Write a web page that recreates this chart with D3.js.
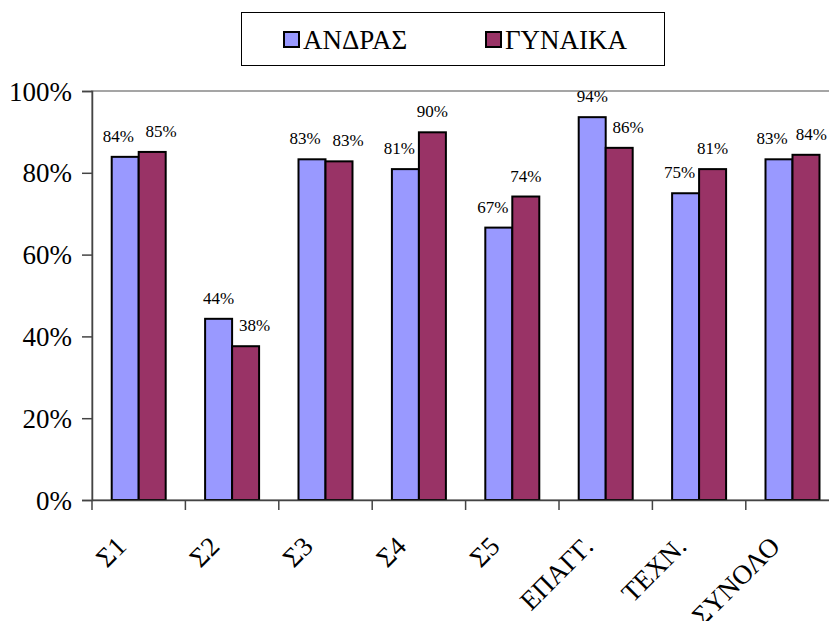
<!DOCTYPE html>
<html>
<head>
<meta charset="utf-8">
<script src="https://cdn.jsdelivr.net/npm/d3@7/dist/d3.min.js"></script>
<style>
  body { margin: 0; background: #fff; }
  svg { display: block; }
  svg text { font-family: "Liberation Serif", "DejaVu Serif", serif; }
</style>
</head>
<body>
<div id="chartContainer"></div>
<script>
// chart data
const categories = ["Σ1", "Σ2", "Σ3", "Σ4", "Σ5", "ΕΠΑΓΓ.", "ΤΕΧΝ.", "ΣΥΝΟΛΟ"];
const series = ["ΑΝΔΡΑΣ", "ΓΥΝΑΙΚΑ"];
const men = [83.9, 44.3, 83.3, 80.9, 66.6, 93.6, 75.0, 83.3];
const women = [85.1, 37.6, 82.8, 89.9, 74.2, 86.1, 80.9, 84.4];
const yTicks = [0, 20, 40, 60, 80, 100];
const colors = ["#9999FF", "#993366"];

// layout
const W = 829, H = 621;
const LEFT = 92, TOP = 91, BOTTOM = 500;
const STEP = 93.4;
const RIGHT = LEFT + STEP * categories.length;
const FONT = "'Liberation Serif', 'DejaVu Serif', serif";

const svg = d3.select("#chartContainer")
    .append("svg")
    .attr("width", W)
    .attr("height", H);

const xScale = d3.scaleBand()
    .domain(categories)
    .range([LEFT, RIGHT])
    .padding(0);

const groupW = xScale.bandwidth() * 0.578;
const xInner = d3.scaleBand()
    .domain(series)
    .range([0, groupW]);

const yScale = d3.scaleLinear()
    .domain([0, 100])
    .range([BOTTOM, TOP]);

// plot border (top edge visible, right side off frame)
svg.append("rect")
    .attr("x", LEFT)
    .attr("y", TOP)
    .attr("width", RIGHT - LEFT)
    .attr("height", BOTTOM - TOP)
    .attr("fill", "none")
    .attr("stroke", "#888")
    .attr("stroke-width", 1.5);

// bars
const rows = categories.map((c, i) => ({ cat: c, vals: [men[i], women[i]] }));

const groups = svg.append("g")
    .selectAll("g")
    .data(rows)
    .join("g")
    .attr("transform", d => `translate(${xScale(d.cat) + (xScale.bandwidth() - groupW) / 2},0)`);

groups.selectAll("rect")
    .data(d => d.vals.map((v, j) => ({ s: series[j], v: v, j: j })))
    .join("rect")
    .attr("x", d => xInner(d.s))
    .attr("y", d => yScale(d.v))
    .attr("width", xInner.bandwidth())
    .attr("height", d => BOTTOM - yScale(d.v))
    .attr("fill", d => colors[d.j])
    .attr("stroke", "#000")
    .attr("stroke-width", 2);

// value labels: the lower bar's label is nudged away from its neighbour,
// near-equal pairs are pushed apart
function labelShift(vals, j) {
    const diff = vals[0] - vals[1];
    if (Math.abs(diff) < 2) return j === 0 ? -7 : 9;
    if (diff > 0) return j === 1 ? 9 : 0;
    return j === 0 ? -6 : 0;
}

groups.each(function(row) {
    const gOffset = xScale(row.cat) + (xScale.bandwidth() - groupW) / 2;
    d3.select(this).selectAll("text")
        .data(row.vals.map((v, j) => ({ s: series[j], v: v, j: j })))
        .join("text")
        .attr("y", d => yScale(d.v) - 15)
        .attr("text-anchor", "middle")
        .attr("font-family", FONT)
        .attr("font-size", 17)
        .text(d => Math.round(d.v) + "%")
        .attr("x", function(d) {
            let x = xInner(d.s) + xInner.bandwidth() / 2 + labelShift(row.vals, d.j);
            // keep the label inside the picture
            const half = this.getComputedTextLength() / 2;
            const maxX = W - 2 - half - gOffset;
            return Math.min(x, maxX);
        });
});

// y axis
const yAxis = d3.axisLeft(yScale)
    .tickValues(yTicks)
    .tickSize(10)
    .tickPadding(10)
    .tickFormat(d => d + "%");

const gy = svg.append("g")
    .attr("transform", `translate(${LEFT},0)`)
    .call(yAxis);
gy.attr("font-family", FONT);
gy.selectAll("path, line").attr("stroke", "#444").attr("stroke-width", 1.5);
gy.selectAll("text")
    .attr("font-size", 27)
    .attr("font-family", FONT)
    .attr("fill", "#000")
    .attr("dy", "0.34em");

// x axis: ticks at category boundaries
const xAxis = d3.axisBottom(xScale)
    .tickSize(0)
    .tickFormat("");
const gx = svg.append("g")
    .attr("transform", `translate(0,${BOTTOM})`)
    .call(xAxis);
gx.select("path").attr("stroke", "#444").attr("stroke-width", 1.5);

gx.selectAll(".bound")
    .data(categories)
    .join("line")
    .attr("class", "bound")
    .attr("x1", d => xScale(d))
    .attr("x2", d => xScale(d))
    .attr("y1", 0)
    .attr("y2", 10)
    .attr("stroke", "#444")
    .attr("stroke-width", 1.5);

// x labels rotated
svg.append("g")
    .selectAll("text")
    .data(categories)
    .join("text")
    .attr("transform", d => `translate(${xScale(d) + xScale.bandwidth() / 2 - 11},${BOTTOM + 48}) rotate(-45)`)
    .attr("text-anchor", "end")
    .attr("font-family", FONT)
    .attr("font-size", 27)
    .text(d => d);

// legend
const legend = svg.append("g");
legend.append("rect")
    .attr("x", 241.5)
    .attr("y", 12.5)
    .attr("width", 423)
    .attr("height", 53)
    .attr("fill", "#fff")
    .attr("stroke", "#000")
    .attr("stroke-width", 1);

const legendX = [284, 486];
series.forEach((s, i) => {
    legend.append("rect")
        .attr("x", legendX[i])
        .attr("y", 32)
        .attr("width", 15)
        .attr("height", 15)
        .attr("fill", colors[i])
        .attr("stroke", "#000")
        .attr("stroke-width", 2);
    legend.append("text")
        .attr("x", legendX[i] + 19)
        .attr("y", 49)
        .attr("font-family", FONT)
        .attr("font-size", 27)
        .text(s);
});
</script>
</body>
</html>
